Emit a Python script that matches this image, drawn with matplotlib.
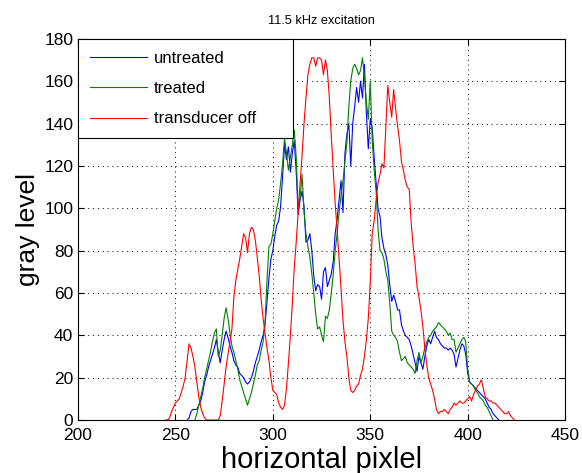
import numpy as np
import matplotlib.pyplot as plt

plt.rcParams['font.family'] = ['Liberation Sans', 'DejaVu Sans']

# gray level along the horizontal pixel line, one value per pixel
red_x = list(range(245, 425))
red_y = [0, 0, 1, 4, 6, 8, 9, 10, 13, 16, 20, 28, 36, 34, 30, 25, 18, 11, 6, 3,
         1, 0, 0, 0, 0, 0, 0, 0, 2, 9, 17, 25, 31, 37, 43, 58, 66, 71, 76, 82,
         88, 86, 79, 88, 91, 90, 85, 77, 68, 57, 48, 41, 34, 28, 20, 14, 13, 12, 8, 6,
         5, 7, 15, 27, 40, 55, 72, 84, 98, 112, 125, 140, 152, 163, 168, 171, 171, 167, 171, 171,
         170, 163, 170, 165, 152, 134, 118, 102, 90, 76, 62, 47, 37, 30, 20, 14, 13, 14, 16, 17,
         21, 24, 30, 38, 48, 65, 88, 94, 104, 112, 116, 121, 119, 138, 158, 150, 143, 156, 147, 139,
         132, 122, 118, 113, 110, 109, 93, 82, 74, 63, 58, 52, 44, 34, 26, 20, 17, 14, 10, 5,
         3, 4, 4, 5, 4, 3, 5, 6, 8, 7, 8, 9, 8, 8, 9, 10, 11, 9, 12, 14,
         16, 17, 19, 15, 11, 10, 9, 9, 8, 8, 7, 6, 5, 4, 3, 3, 4, 2, 1, 0]

blue_x = list(range(256, 417))
blue_y = [0, 1, 4, 5, 5, 5, 7, 9, 13, 18, 21, 25, 28, 31, 34, 38, 32, 27, 33, 38,
          42, 39, 35, 32, 28, 26, 25, 22, 21, 20, 18, 17, 18, 20, 23, 27, 30, 33, 37, 40,
          45, 56, 67, 76, 80, 87, 92, 94, 101, 115, 130, 123, 129, 117, 126, 132, 117, 97, 104, 108,
          101, 84, 85, 88, 80, 68, 61, 64, 63, 57, 70, 72, 63, 66, 69, 75, 88, 95, 104, 113,
          98, 126, 135, 140, 120, 140, 148, 157, 150, 160, 152, 168, 145, 128, 142, 138, 124, 112, 100, 96,
          86, 81, 78, 73, 64, 56, 59, 56, 52, 52, 45, 42, 40, 39, 38, 35, 31, 27, 23, 30,
          27, 24, 30, 35, 38, 36, 39, 42, 39, 38, 36, 35, 34, 34, 33, 34, 33, 31, 25, 29,
          33, 36, 35, 31, 22, 18, 17, 16, 15, 14, 13, 12, 11, 10, 8, 6, 5, 3, 2, 1,
          0]

green_x = list(range(260, 414))
green_y = [0, 3, 7, 11, 15, 20, 24, 28, 32, 37, 41, 43, 30, 33, 40, 48, 53, 48, 41, 35,
           32, 28, 24, 19, 16, 13, 10, 7, 10, 13, 17, 21, 26, 28, 33, 37, 46, 66, 82, 83,
           88, 94, 100, 104, 112, 121, 133, 126, 118, 124, 130, 137, 124, 100, 105, 116, 98, 88, 82, 77,
           69, 60, 50, 43, 44, 40, 37, 49, 48, 52, 60, 69, 80, 88, 98, 106, 113, 122, 131, 148,
           160, 166, 168, 166, 163, 165, 171, 162, 150, 142, 160, 132, 118, 108, 90, 80, 79, 76, 70, 66,
           55, 42, 40, 39, 37, 32, 28, 29, 30, 27, 26, 25, 24, 22, 28, 32, 27, 30, 34, 37,
           39, 40, 42, 43, 44, 46, 45, 44, 43, 42, 40, 41, 38, 38, 32, 34, 36, 38, 39, 37,
           24, 18, 17, 16, 14, 13, 11, 10, 9, 7, 6, 4, 2, 0]

fig = plt.figure(figsize=(5.82, 4.73), dpi=100)
ax = fig.add_axes([0.134, 0.112, 0.837, 0.806])

ax.plot(blue_x, blue_y, color=(0, 0, 1), lw=0.8, label='untreated')
ax.plot(green_x, green_y, color=(0, 0.5, 0), lw=0.8, label='treated')
ax.plot(red_x, red_y, color=(1, 0, 0), lw=0.8, label='transducer off')

ax.set_xlim(200, 450)
ax.set_ylim(0, 180)
ax.set_xticks(np.arange(200, 451, 50))
ax.set_yticks(np.arange(0, 181, 20))
ax.grid(True, linestyle=(0, (1, 4)), color='k', linewidth=0.7)
ax.tick_params(direction='in', length=4, labelsize=12.5, top=True, right=True)
ax.tick_params(axis='x', pad=6)
for s in ax.spines.values():
    s.set_linewidth(0.8)

ax.set_title('11.5 kHz excitation', fontsize=9.2, pad=11)
ax.set_xlabel('horizontal pixlel', fontsize=21, labelpad=2)
ax.set_ylabel('gray level', fontsize=19, labelpad=3)

leg = ax.legend(loc='upper left', bbox_to_anchor=(0, 0, 0.4415, 1), mode='expand',
                fontsize=12, fancybox=False, framealpha=1,
                edgecolor='k', borderaxespad=0, handlelength=3.4,
                labelspacing=0.92, borderpad=0.72, handletextpad=0.42)
leg.get_frame().set_linewidth(0.8)

fig.savefig('out.png', dpi=100)
